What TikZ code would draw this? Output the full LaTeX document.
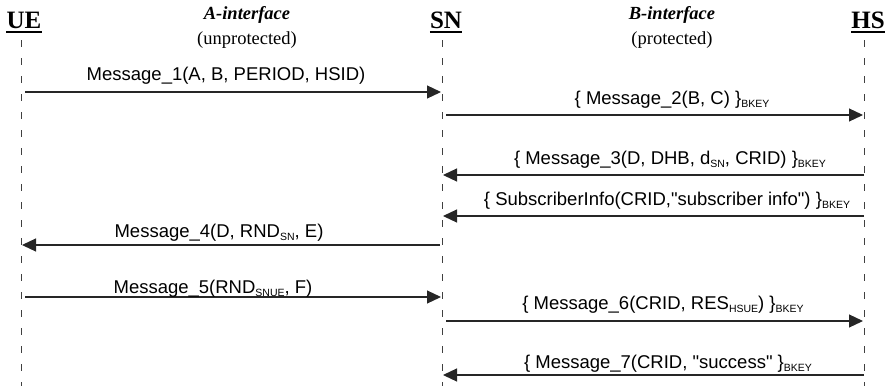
\documentclass[tikz,border=0pt]{standalone}
\usepackage{fontspec}
\setmainfont{Liberation Serif}
\newfontfamily\msgfont{Liberation Sans}
\usetikzlibrary{arrows.meta}

% lowered small index used in the message texts
\newcommand\lowsub[1]{\raisebox{-3.5pt}{\fontsize{10.5}{10.5}\selectfont #1}}

\begin{document}
\begin{tikzpicture}[x=1pt,y=-1pt,
  head/.style={font=\fontsize{25}{25}\selectfont\bfseries, anchor=base, inner sep=0pt},
  iface/.style={font=\fontsize{18.5}{18.5}\selectfont\bfseries\itshape, anchor=base, inner sep=0pt},
  ifacenote/.style={font=\fontsize{18.5}{18.5}\selectfont, anchor=base, inner sep=0pt},
  underbar/.style={line width=2pt},
  lifeline/.style={draw=black!75, line width=0.9pt, dash pattern=on 7pt off 11pt},
  msg/.style={draw=black!85, line width=1.2pt, -{Triangle[length=14pt,width=13pt]}},
  msgtext/.style={font=\msgfont\fontsize{18.5}{18.5}\selectfont, anchor=base, inner sep=0pt}
]
\useasboundingbox (0,0) rectangle (892,386);

% entity headings
\node[head] (UE) at (24,28) {UE};
\node[head] (SN) at (446,28) {SN};
\node[head] (HS) at (868,28) {HS};
\foreach \n in {UE,SN,HS}
  \draw[underbar] ([yshift=-3.5pt]\n.base west) -- ([yshift=-3.5pt]\n.base east);

% interface captions
\node[iface] (Aif) at (247,19) {A-interface};
\node[ifacenote] (Anote) at (247,44) {(unprotected)};
\node[iface] (Bif) at (672,19) {B-interface};
\node[ifacenote] (Bnote) at (672,44) {(protected)};

% lifelines
\coordinate (ueTop) at (21,40);  \coordinate (ueBot) at (21,386);
\coordinate (snTop) at (442,40); \coordinate (snBot) at (442,386);
\coordinate (hsTop) at (864,40); \coordinate (hsBot) at (864,386);
\draw[lifeline] (ueTop) -- (ueBot);
\draw[lifeline] (snTop) -- (snBot);
\draw[lifeline] (hsTop) -- (hsBot);

% message end points on the lifelines
\coordinate (ue1) at (25,92);   \coordinate (sn1) at (441,92);
\coordinate (sn2) at (446,115); \coordinate (hs2) at (863,115);
\coordinate (hs3) at (864,175); \coordinate (sn3) at (443,175);
\coordinate (hs4) at (864,216); \coordinate (sn4) at (443,216);
\coordinate (sn5) at (440,245); \coordinate (ue5) at (22,245);
\coordinate (ue6) at (25,297);  \coordinate (sn6) at (441,297);
\coordinate (sn7) at (446,321); \coordinate (hs7) at (863,321);
\coordinate (hs8) at (864,375); \coordinate (sn8) at (443,375);

% messages
\draw[msg] (ue1) -- (sn1);
\node[msgtext] (m1) at (226,80) {Message\_1(A, B, PERIOD, HSID)};

\draw[msg] (sn2) -- (hs2);
\node[msgtext] (m2) at (672,104) {\{ Message\_2(B, C) \}\lowsub{BKEY}};

\draw[msg] (hs3) -- (sn3);
\node[msgtext] (m3) at (670,164) {\{ Message\_3(D, DHB, d\lowsub{SN}, CRID) \}\lowsub{BKEY}};

\draw[msg] (hs4) -- (sn4);
\node[msgtext] (m4) at (667,205) {\{ SubscriberInfo(CRID,"subscriber info") \}\lowsub{BKEY}};

\draw[msg] (sn5) -- (ue5);
\node[msgtext] (m5) at (219,237) {Message\_4(D, RND\lowsub{SN}, E)};

\draw[msg] (ue6) -- (sn6);
\node[msgtext] (m6) at (213,293) {Message\_5(RND\lowsub{SNUE}, F)};

\draw[msg] (sn7) -- (hs7);
\node[msgtext] (m7) at (663,309) {\{ Message\_6(CRID, RES\lowsub{HSUE}) \}\lowsub{BKEY}};

\draw[msg] (hs8) -- (sn8);
\node[msgtext] (m8) at (668,368) {\{ Message\_7(CRID, "success" \}\lowsub{BKEY}};
\end{tikzpicture}
\end{document}
